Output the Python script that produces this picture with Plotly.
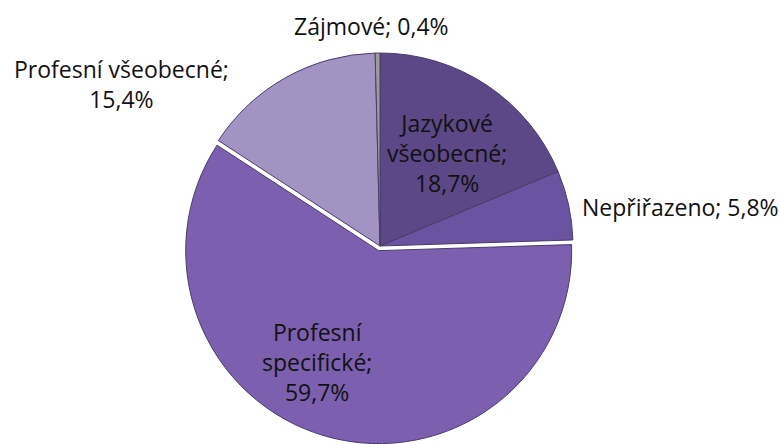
import plotly.graph_objects as go

categories = ["Jazykové všeobecné", "Nepřiřazeno", "Profesní specifické",
              "Profesní všeobecné", "Zájmové"]
values = [18.7, 5.8, 59.7, 15.4, 0.4]

colors = ["#5c4787", "#6a53a0", "#7d5faf", "#a293c2", "#9c9c9c"]
pulls = [0, 0, 0.025, 0, 0]

W, H = 779, 444
cx, cy, r = 380, 246, 193
R = r * (1 + max(pulls))

fig = go.Figure()
fig.add_trace(go.Pie(
    labels=categories, values=values, sort=False, direction="clockwise",
    rotation=0, textinfo="none", hoverinfo="label+percent", pull=pulls,
    marker=dict(colors=colors, line=dict(color="#4a3c6a", width=1)),
    domain=dict(x=[(cx - R) / W, (cx + R) / W],
                y=[max(0, (H - cy - R) / H), min(1, (H - cy + R) / H)]),
    showlegend=False,
))


def fmt(v):
    return f"{v:.1f}%".replace(".", ",")


# label layout: (pixel x, pixel y, anchor, wrap mode)
label_layout = {
    0: (447, 153, "center", "words"),
    1: (580, 207, "left", "single"),
    2: (317, 362, "center", "words"),
    3: (121, 84, "center", "two"),
    4: (371, 26, "center", "single"),
}

font = dict(family="Open Sans", size=23, color="#111111")
for i, (name, v) in enumerate(zip(categories, values)):
    px, py, anchor, mode = label_layout[i]
    if mode == "single":
        txt = f"{name}; {fmt(v)}"
    elif mode == "two":
        txt = f"{name};<br>{fmt(v)}"
    else:
        txt = "<br>".join(name.split(" ")) + ";<br>" + fmt(v)
    fig.add_annotation(x=px / W, y=1 - py / H, xref="paper", yref="paper",
                       text=txt, showarrow=False, xanchor=anchor,
                       yanchor="middle", font=font, align="center")

fig.update_layout(width=W, height=H, margin=dict(l=0, r=0, t=0, b=0),
                  paper_bgcolor="white", plot_bgcolor="white")
fig.write_html("out.html", config={"displayModeBar": False},
               post_script="document.body.style.margin='0';"
                           "document.body.style.overflow='hidden';")
